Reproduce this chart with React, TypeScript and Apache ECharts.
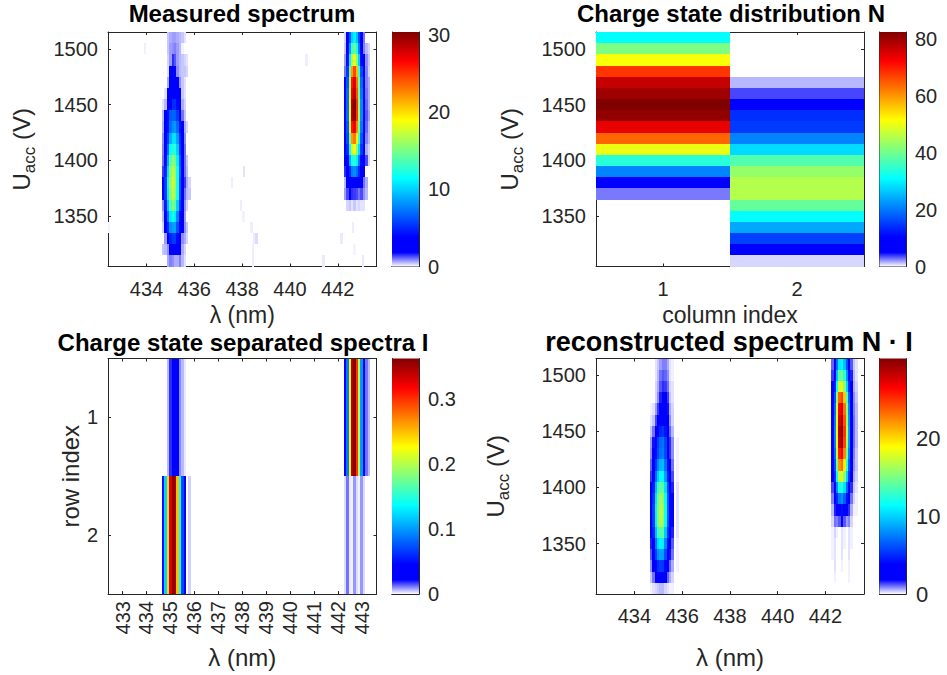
import React, { useEffect, useRef } from "react";
import * as echarts from "echarts";

const FONT = "Liberation Sans";
const INK = "#262626";

const VOLTAGES = [1510, 1500, 1490, 1480, 1470, 1460, 1450, 1440, 1430, 1420, 1410, 1400, 1390, 1380, 1370, 1360, 1350, 1340, 1330, 1320, 1310];
const LEFT_COLS = [434.7, 434.8, 434.9, 435.0, 435.1, 435.2, 435.3, 435.4, 435.5, 435.6, 435.7, 435.8];
const RIGHT_COLS = [442.3, 442.4, 442.5, 442.6, 442.7, 442.8, 442.9, 443.0, 443.1, 443.2, 443.3];

const MEASURED_LEFT = [
  [0, 0, .4, .6, .7, .7, .6, .5, .4, .2, 0, 0],
  [0, 0, .4, .7, .8, .9, .7, .5, .1, 0, 0, 0],
  [0, 0, .3, .7, 1.5, 1.2, .7, .5, .4, .3, .2, 0],
  [0, 0, .2, 1.9, 2.4, 2.5, .8, .5, .4, .4, .3, 0],
  [0, 0, .6, 2.2, 2.8, 3, 2.5, .8, .4, .2, 0, 0],
  [0, .2, 1.9, 2.8, 3.4, 3.7, 3, 2, .4, .2, 0, 0],
  [.2, .5, 2.4, 3.8, 5, 5.2, 4, 2.6, .6, .3, 0, 0],
  [.5, 2.6, 4.2, 6.5, 6.8, 6.7, 5.6, 3.8, 1, .4, 0, 0],
  [.6, 2.4, 4.4, 7, 8, 8.4, 7, 4.3, 2.6, .6, .3, 0],
  [.8, 2.5, 5.5, 9, 10.5, 10.6, 8.6, 5.2, 2.6, .8, 0, 0],
  [.9, 3, 7, 11.5, 12.5, 12.5, 10, 5.5, 2.7, 1, 0, 0],
  [1, 4, 9, 14, 15.5, 15, 11, 6.5, 3.2, 1, .4, 0],
  [1.4, 4.8, 10.5, 15.5, 17, 16, 12, 6.8, 3, 1, .5, 0],
  [2, 5.5, 11.5, 16, 17.5, 16.5, 12, 6.3, 3.2, 1.4, .6, .3],
  [2.7, 5.5, 11, 15.5, 17, 16, 12, 6.3, 3.2, 1, .5, .4],
  [.8, 4.5, 9.5, 13.5, 15.5, 14, 10, 5.5, 2.6, .8, .3, 0],
  [.5, 3.2, 7.2, 10.8, 12, 11, 7.8, 4, 2.5, .7, 0, 0],
  [.3, 2.6, 5, 8, 8.6, 8.7, 6.2, 3.2, 2.6, .8, .4, 0],
  [0, .7, 3, 4.8, 5.5, 5.6, 4, 3.5, .8, .6, .3, 0],
  [.4, .5, .8, 3, 3.2, 3.2, 3, 3, .6, .3, 0, 0],
  [0, 0, .6, .9, .8, .6, .6, .9, .5, .2, 0, 0],
];
const MEASURED_RIGHT = [
  [.3, 3, 6.5, 10, 11, 9.5, 6, 3, 1, 0, 0],
  [.4, 3.2, 8.5, 13, 14.5, 12, 7.5, 3.2, .9, .5, .3],
  [.7, 4, 11, 16.5, 18.5, 15, 10, 4, 2.6, .8, .4],
  [1, 5.5, 15, 22, 24.5, 21, 13, 6, 2.7, .9, .3],
  [2.5, 6.5, 17, 26, 27.5, 23, 15, 7, 3, .9, .6],
  [2.6, 7, 18, 27, 28.5, 24, 15, 7.5, 3, 1, .6],
  [2.7, 7, 19, 29, 30.2, 25, 16, 8, 2.8, 1.1, .6],
  [2.7, 7.2, 19, 29, 30, 25, 16.5, 8, 3, 1.2, .7],
  [2.6, 6.5, 18, 26, 27, 22.5, 15, 7.5, 3, 1.1, .5],
  [2.5, 6, 15, 22, 23, 19.5, 13, 6.5, 2.7, .9, .5],
  [2.5, 5, 12, 17.5, 18.5, 15.5, 10.5, 5.5, 2.6, .6, .3],
  [2.6, 3.8, 9, 12, 12.5, 11, 7.5, 4, 2.6, 1.3, .3],
  [1.5, 3.2, 5, 7.5, 8, 7, 5, 3.2, 2.6, 0, 0],
  [.5, 2.6, 3.5, 3.6, 3.8, 3.5, 3, 2.8, 1, .6, 0],
  [.7, 1.3, 2, 1.5, 1.4, 1.3, 1, 1.3, .8, .5, 0],
  [0, .3, .4, .2, .4, .2, .3, .2, .2, 0, 0],
  [0, 0, 0, 0, 0, 0, 0, 0, 0, 0, 0],
  [0, 0, 0, 0, 0, 0, 0, 0, 0, 0, 0],
  [0, 0, 0, 0, 0, 0, 0, 0, 0, 0, 0],
  [0, 0, 0, 0, 0, 0, 0, 0, 0, 0, 0],
  [0, 0, 0, 0, 0, 0, 0, 0, 0, 0, 0],
];
// faint isolated measured counts: [lambda, U, counts]
const MEASURED_SPECKS = [
  [433.93, 1500, .12], [440.7, 1490, .12], [438.08, 1390, .2], [437.58, 1380, .12], [437.95, 1360, .12],
  [438.05, 1350, .1], [438.4, 1340, .12], [438.6, 1330, .25], [438.5, 1330, .15], [438.45, 1320, .12],
  [438.45, 1310, .12], [442.15, 1330, .15], [441.4, 1310, .15], [442.63, 1340, .12], [443.05, 1310, .15],
  [432.42, 1340, .08], [442.7, 1320, .08],
];

const CHARGE_COLUMNS = [1, 2];
const N_COLUMN_1 = [31, 41, 51, 68, 77, 80, 83, 81, 74, 64, 50, 34, 21, 10, 2.6, 0, 0, 0, 0, 0, 0];
const N_COLUMN_2 = [0, 0, 0, 0, 1.4, 3.6, 8, 14, 15, 21, 28, 37.5, 43, 45.5, 45.5, 39, 31, 24, 15.5, 8, .8];

const SPECTRA_ROWS = [1, 2];
const I_ROW_1_LEFT = [0, 0, .006, .018, .024, .03, .028, .01, .006, .002, 0, 0];
const I_ROW_2_LEFT = [.05, .12, .24, .33, .36, .35, .25, .14, .07, .04, 0, .004];
const I_ROW_1_RIGHT = [.035, .09, .23, .345, .36, .3, .2, .1, .04, .012, .006];
const I_ROW_2_RIGHT = [.003, .012, .002, .001, .009, .003, .001, .009, .003, 0, 0];

const RECON_LEFT = [
  [0, 0, .2, .4, .7, .9, .9, .6, .2, .1, 0, 0],
  [0, 0, .2, .5, 1, 1.2, 1.1, .8, .2, .1, 0, 0],
  [0, 0, .3, .6, 1.2, 1.5, 1.4, 1, .3, .2, 0, 0],
  [0, 0, .3, .8, 1.6, 2, 1.9, 1.4, .4, .2, 0, 0],
  [.1, .2, .7, 1.4, 2.3, 2.8, 2.6, 1.7, .6, .3, 0, 0],
  [.2, .4, 1.3, 2.2, 3.2, 3.7, 3.1, 2.1, .8, .3, 0, 0],
  [.4, 1, 2.3, 3.6, 4.9, 5.3, 4.3, 2.8, 1.1, .5, 0, 0],
  [.7, 1.7, 3.8, 5.6, 6.9, 7.3, 5.8, 3.6, 1.5, .8, 0, .1],
  [.8, 1.8, 4, 5.9, 7.2, 7.5, 5.9, 3.6, 1.5, .8, 0, .1],
  [1.1, 2.5, 5.3, 7.7, 9.1, 9.3, 7.1, 4.2, 1.9, 1, 0, .1],
  [1.4, 3.4, 7, 9.8, 11.3, 11.3, 8.4, 4.9, 2.3, 1.3, 0, .1],
  [1.9, 4.5, 9.2, 12.8, 14.3, 14.1, 10.4, 6, 2.8, 1.6, 0, .2],
  [2.2, 5.2, 10.4, 14.5, 16, 15.7, 11.4, 6.4, 3.1, 1.8, 0, .2],
  [2.3, 5.5, 11, 15.1, 16.6, 16.2, 11.7, 6.6, 3.3, 1.8, 0, .2],
  [2.3, 5.5, 10.9, 15, 16.5, 16, 11.5, 6.4, 3.2, 1.8, 0, .2],
  [2, 4.7, 9.4, 12.9, 14, 13.7, 9.8, 5.5, 2.7, 1.6, 0, .2],
  [1.6, 3.7, 7.4, 10.2, 11.2, 10.9, 7.8, 4.3, 2.2, 1.2, 0, .1],
  [1.2, 2.9, 5.8, 7.9, 8.6, 8.4, 6, 3.4, 1.7, 1, 0, .1],
  [.8, 1.9, 3.7, 5.1, 5.6, 5.4, 3.9, 2.2, 1.1, .6, 0, .1],
  [.4, 1, 1.9, 2.6, 2.9, 2.8, 2, 1.1, .6, .3, 0, 0],
  [.1, .2, .3, .4, .5, .5, .3, .2, .1, .1, 0, 0],
];
const RECON_RIGHT = [
  [1.1, 2.8, 7.1, 10.7, 11.2, 9.3, 6.2, 3.1, 1.2, .4, .2],
  [1.4, 3.7, 9.4, 14.1, 14.8, 12.3, 8.2, 4.1, 1.6, .5, .2],
  [1.8, 4.6, 11.7, 17.6, 18.4, 15.3, 10.2, 5.1, 2, .6, .3],
  [2.4, 6.1, 15.6, 23.5, 24.5, 20.4, 13.6, 6.8, 2.7, .8, .4],
  [2.7, 6.9, 17.7, 26.6, 27.7, 23.1, 15.4, 7.7, 3.1, .9, .5],
  [2.8, 7.3, 18.4, 27.6, 28.9, 24, 16, 8.1, 3.2, 1, .5],
  [2.9, 7.6, 19.1, 28.6, 30, 24.9, 16.6, 8.4, 3.3, 1, .5],
  [2.9, 7.5, 18.7, 28, 29.3, 24.4, 16.2, 8.3, 3.3, 1, .5],
  [2.7, 6.9, 17, 25.5, 26.8, 22.3, 14.8, 7.6, 3, .9, .4],
  [2.3, 6.1, 14.8, 22.1, 23.3, 19.3, 12.8, 6.6, 2.6, .8, .4],
  [1.9, 5, 11.6, 17.3, 18.3, 15.1, 10, 5.3, 2.1, .6, .3],
  [1.3, 3.7, 7.9, 11.8, 12.7, 10.4, 6.8, 3.9, 1.5, .4, .2],
  [.9, 2.6, 4.9, 7.3, 8.1, 6.5, 4.2, 2.6, 1, .3, .1],
  [.5, 1.6, 2.4, 3.5, 4.1, 3.2, 2, 1.5, .6, .1, .1],
  [.3, 1, .9, 1.2, 1.8, 1.2, .7, .9, .3, 0, 0],
  [.1, .3, .1, 0, .2, .1, 0, .2, .1, 0, 0],
  [.1, .2, 0, 0, .2, .1, 0, .2, .1, 0, 0],
  [.1, .2, 0, 0, .2, 0, 0, .2, 0, 0, 0],
  [0, .2, 0, 0, .1, 0, 0, .1, 0, 0, 0],
  [0, .1, 0, 0, 0, 0, 0, .1, 0, 0, 0],
  [0, 0, 0, 0, 0, 0, 0, 0, 0, 0, 0],
];

const WAVELENGTH_TICKS_SPARSE = [434, 436, 438, 440, 442];
const WAVELENGTH_TICKS_DENSE = [433, 434, 435, 436, 437, 438, 439, 440, 441, 442, 443];
const VOLTAGE_TICKS = [1350, 1400, 1450, 1500];
const INDEX_TICKS = [1, 2];
const BAR_TICKS_MEASURED = [0, 10, 20, 30];
const BAR_TICKS_N = [0, 20, 40, 60, 80];
const BAR_TICKS_I = [0, 0.1, 0.2, 0.3];
const BAR_TICKS_RECON = [0, 10, 20];

// colormap: [position, r, g, b]
const COLORMAP = [
  [0, 255, 255, 255], [0.06, 0, 0, 255], [0.125, 0, 0, 255], [0.375, 0, 255, 255],
  [0.625, 255, 255, 0], [0.875, 255, 0, 0], [1, 128, 0, 0],
];

function colorAt(t: number) {
  const p = Math.max(0, Math.min(1, t));
  for (let i = 1; i < COLORMAP.length; i++) {
    const a = COLORMAP[i - 1], b = COLORMAP[i];
    if (p <= b[0]) {
      const f = (p - a[0]) / (b[0] - a[0]);
      const c = [1, 2, 3].map((k) => Math.round(a[k] + (b[k] - a[k]) * f));
      return `rgb(${c[0]},${c[1]},${c[2]})`;
    }
  }
  return "rgb(128,0,0)";
}

function lineCells(rowCoords: number[], cols: number[], table: number[][]) {
  const out: number[][] = [];
  table.forEach((row, r) => row.forEach((v, c) => { if (v > 0) out.push([cols[c], rowCoords[r], v]); }));
  return out;
}

function heatSeries(index: number, data: number[][], halfX: number, halfY: number, vmax: number) {
  return {
    type: "custom", xAxisIndex: index, yAxisIndex: index, data, silent: true, animation: false,
    encode: { x: 0, y: 1 },
    renderItem: (_p: any, api: any) => {
      const x = api.value(0), y = api.value(1), v = api.value(2);
      const a = api.coord([x - halfX, y - halfY]);
      const b = api.coord([x + halfX, y + halfY]);
      const x0 = Math.round(Math.min(a[0], b[0])), x1 = Math.round(Math.max(a[0], b[0]));
      const y0 = Math.round(Math.min(a[1], b[1])), y1 = Math.round(Math.max(a[1], b[1]));
      return { type: "rect", shape: { x: x0, y: y0, width: x1 - x0, height: y1 - y0 }, style: { fill: colorAt(v / vmax) } };
    },
  };
}

function barSeries(index: number, vmax: number) {
  return {
    type: "custom", xAxisIndex: index, yAxisIndex: index, data: [[0, vmax]], silent: true, animation: false,
    encode: { y: 1 },
    renderItem: (_p: any, api: any) => {
      const a = api.coord([0, 0]);
      const b = api.coord([1, api.value(1)]);
      const stops = COLORMAP.map((s) => ({ offset: s[0], color: `rgb(${s[1]},${s[2]},${s[3]})` }));
      return {
        type: "rect",
        shape: { x: a[0], y: b[1], width: b[0] - a[0], height: a[1] - b[1] },
        style: { fill: new echarts.graphic.LinearGradient(0, 1, 0, 0, stops) },
      };
    },
  };
}

const fmt = (v: number) => String(v);

function xPair(gridIndex: number, min: number, max: number, ticks: number[], fontSize: number, name: string, nameGap: number, nameSize: number, rotate = 0, margin = 12) {
  const base = {
    type: "value", gridIndex, min, max, splitLine: { show: false },
    axisLine: { show: true, onZero: false, lineStyle: { color: INK, width: 1 } },
    axisTick: { show: true, inside: true, length: 3, customValues: ticks, lineStyle: { color: INK } },
  };
  return [
    { ...base, position: "bottom", name, nameLocation: "middle", nameGap,
      nameTextStyle: { fontFamily: FONT, fontSize: nameSize, lineHeight: 20, color: INK },
      axisLabel: { show: true, customValues: ticks, formatter: fmt, rotate, fontFamily: FONT, fontSize, color: INK, margin } },
    { ...base, position: "top", axisLabel: { show: false } },
  ];
}

function yPair(gridIndex: number, min: number, max: number, ticks: number[], fontSize: number, name: any, nameGap: number, nameStyle: any, inverse = false) {
  const base = {
    type: "value", gridIndex, min, max, inverse, splitLine: { show: false },
    axisLine: { show: true, onZero: false, lineStyle: { color: INK, width: 1 } },
    axisTick: { show: true, inside: true, length: 3, customValues: ticks, lineStyle: { color: INK } },
  };
  return [
    { ...base, position: "left", name, nameLocation: "middle", nameGap, nameTextStyle: nameStyle,
      axisLabel: { show: true, customValues: ticks, formatter: fmt, fontFamily: FONT, fontSize, color: INK, margin: 10 } },
    { ...base, position: "right", axisLabel: { show: false } },
  ];
}

function uAccStyle(size: number, sub: number) {
  return {
    fontFamily: FONT, color: INK, fontSize: size,
    rich: {
      u: { fontFamily: FONT, color: INK, fontSize: size, lineHeight: size + 10, verticalAlign: "middle" },
      s: { fontFamily: FONT, color: INK, fontSize: sub, lineHeight: size + 10, verticalAlign: "bottom" },
    },
  };
}
const U_ACC = "{u|U}{s|acc}{u| (V)}";

function buildOption() {
  const grids = [
    { left: 108, top: 32, width: 268.5, height: 234.5 },
    { left: 596, top: 32, width: 268, height: 234.5 },
    { left: 108, top: 358.5, width: 268.5, height: 235.5 },
    { left: 596, top: 358.5, width: 268, height: 235.5 },
    { left: 392, top: 32, width: 27, height: 234.5 },
    { left: 879.5, top: 32, width: 26.5, height: 234.5 },
    { left: 392, top: 358.5, width: 27, height: 235.5 },
    { left: 879.5, top: 358.5, width: 26.5, height: 235.5 },
  ].map((g) => ({ ...g, show: false }));

  const L0 = 432.39, L1 = 443.62, U0 = 1305, U1 = 1515;
  const barX = (i: number) => ({ type: "value", gridIndex: i, min: 0, max: 1, show: true, position: "bottom",
    axisLine: { show: true, lineStyle: { color: INK } }, axisTick: { show: false }, axisLabel: { show: false }, splitLine: { show: false } });
  const barXTop = (i: number) => ({ ...barX(i), position: "top" });
  const barY = (i: number, max: number, ticks: number[], size: number, margin: number) => ({
    type: "value", gridIndex: i, min: 0, max, position: "right", splitLine: { show: false },
    axisLine: { show: true, onZero: false, lineStyle: { color: INK } }, axisTick: { show: false },
    axisLabel: { show: true, customValues: ticks, formatter: fmt, fontFamily: FONT, fontSize: size, color: INK, margin },
  });
  const barYLeft = (i: number, max: number) => ({
    type: "value", gridIndex: i, min: 0, max, position: "left", splitLine: { show: false },
    axisLine: { show: true, onZero: false, lineStyle: { color: INK } }, axisTick: { show: false }, axisLabel: { show: false },
  });

  const pairsX = [
    xPair(0, L0, L1, WAVELENGTH_TICKS_SPARSE, 20, "λ (nm)", 38, 23),
    xPair(1, 0.5, 2.5, INDEX_TICKS, 20, "column index", 38, 23),
    xPair(2, L0, L1, WAVELENGTH_TICKS_DENSE, 20, "λ (nm)", 53, 24, 90, 7),
    xPair(3, L0, L1, WAVELENGTH_TICKS_SPARSE, 20, "λ (nm)", 53, 24),
  ];
  const pairsY = [
    yPair(0, U0, U1, VOLTAGE_TICKS, 20, U_ACC, 70, uAccStyle(24, 17)),
    yPair(1, U0, U1, VOLTAGE_TICKS, 20, U_ACC, 70, uAccStyle(24, 17)),
    yPair(2, 0.5, 2.5, INDEX_TICKS, 20, "row index", 24, { fontFamily: FONT, fontSize: 24, color: INK }, true),
    yPair(3, U0, U1, VOLTAGE_TICKS, 20, U_ACC, 84, uAccStyle(24, 17)),
  ];

  // main pairs occupy indexes 0-3; colour bars 4-7; mirrors 8-11 and 12-15
  const xAxis = [
    ...pairsX.map((p) => p[0]), barX(4), barX(5), barX(6), barX(7),
    ...pairsX.map((p) => p[1]), barXTop(4), barXTop(5), barXTop(6), barXTop(7),
  ];
  const yAxis = [
    ...pairsY.map((p) => p[0]),
    barY(4, 30.4, BAR_TICKS_MEASURED, 20, 9), barY(5, 82.5, BAR_TICKS_N, 20, 9),
    barY(6, 0.363, BAR_TICKS_I, 20, 9), barY(7, 30.2, BAR_TICKS_RECON, 22, 10),
    ...pairsY.map((p) => p[1]),
    barYLeft(4, 30.4), barYLeft(5, 82.5), barYLeft(6, 0.363), barYLeft(7, 30.2),
  ];

  const measured = [
    ...lineCells(VOLTAGES, LEFT_COLS, MEASURED_LEFT),
    ...lineCells(VOLTAGES, RIGHT_COLS, MEASURED_RIGHT),
    ...MEASURED_SPECKS,
  ];
  const charge = lineCells(VOLTAGES, CHARGE_COLUMNS, VOLTAGES.map((_, i) => [N_COLUMN_1[i], N_COLUMN_2[i]]));
  const spectra = [
    ...lineCells(SPECTRA_ROWS, LEFT_COLS, [I_ROW_1_LEFT, I_ROW_2_LEFT]),
    ...lineCells(SPECTRA_ROWS, RIGHT_COLS, [I_ROW_1_RIGHT, I_ROW_2_RIGHT]),
  ];
  const recon = [
    ...lineCells(VOLTAGES, LEFT_COLS, RECON_LEFT),
    ...lineCells(VOLTAGES, RIGHT_COLS, RECON_RIGHT),
  ];

  const titleStyle = (size: number) => ({ fontFamily: FONT, fontWeight: "bold", fontSize: size, lineHeight: 24, color: "#000" });
  return {
    animation: false,
    backgroundColor: "#fff",
    title: [
      { text: "Measured spectrum", left: 242, top: 1, textAlign: "center", textStyle: titleStyle(24), padding: 0 },
      { text: "Charge state distribution N", left: 731, top: 1, textAlign: "center", textStyle: titleStyle(24), padding: 0 },
      { text: "Charge state separated spectra I", left: 243, top: 330, textAlign: "center", textStyle: titleStyle(24), padding: 0 },
      { text: "reconstructed spectrum N · I", left: 729, top: 330, textAlign: "center", textStyle: titleStyle(27), padding: 0 },
    ],
    grid: grids,
    xAxis,
    yAxis,
    series: [
      heatSeries(0, measured, 0.05, 5, 30.4),
      heatSeries(1, charge, 0.5, 5, 82.5),
      heatSeries(2, spectra, 0.05, 0.5, 0.363),
      heatSeries(3, recon, 0.05, 5, 30.2),
      barSeries(4, 30.4),
      barSeries(5, 82.5),
      barSeries(6, 0.363),
      barSeries(7, 30.2),
    ],
  };
}

export default function App() {
  const ref = useRef<HTMLDivElement>(null);
  useEffect(() => {
    document.body.style.margin = "0";
    const chart = echarts.init(ref.current!, undefined, { renderer: "svg" });
    chart.setOption(buildOption() as any);
    return () => chart.dispose();
  }, []);
  return <div ref={ref} style={{ position: "absolute", left: 0, top: 0, width: 947, height: 675 }} />;
}
